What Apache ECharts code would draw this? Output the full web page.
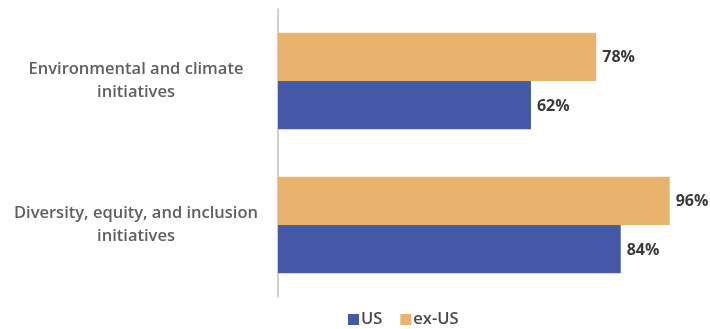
<!DOCTYPE html>
<html>
<head>
<meta charset="utf-8">
<script src="https://cdn.jsdelivr.net/npm/echarts@6/dist/echarts.min.js"></script>
<style>
html,body{margin:0;padding:0;background:#fff;}
#chart{width:710px;height:329px;}
</style>
</head>
<body>
<div id="chart"></div>
<script>
const categories = ['Environmental and climate\ninitiatives', 'Diversity, equity, and inclusion\ninitiatives'];
const usValues = [62, 84];
const exUsValues = [78, 96];
const seriesNames = ['US', 'ex-US'];

const chart = echarts.init(document.getElementById('chart'));
const font = '"Open Sans", "Noto Sans", sans-serif';
chart.setOption({
  animation: false,
  textStyle: { fontFamily: font },
  grid: { left: 278, right: 24, top: 9, bottom: 32, containLabel: false },
  legend: {
    data: seriesNames,
    top: 306,
    left: 343,
    itemWidth: 11,
    itemHeight: 11,
    itemGap: 18,
    icon: 'rect',
    textStyle: { fontFamily: font, fontSize: 16.5, fontWeight: 600, color: '#4a4a4a', padding: [0, 0, 0, -3] }
  },
  xAxis: {
    type: 'value', min: 0, max: 100,
    show: false
  },
  yAxis: {
    type: 'category',
    inverse: true,
    data: categories,
    axisLine: { show: true, lineStyle: { color: '#bfbfbf', width: 1.5 } },
    axisTick: { show: false },
    axisLabel: {
      fontFamily: font, fontSize: 16.5, fontWeight: 600, color: '#5f5f5f',
      align: 'center', margin: 142, lineHeight: 23
    }
  },
  series: [
    {
      name: 'ex-US', type: 'bar', data: exUsValues,
      barGap: '0%', barCategoryGap: '33%',
      itemStyle: { color: '#e9b36e' },
      label: { show: true, position: 'right', distance: 6, formatter: '{c}%',
        fontFamily: font, fontSize: 16, fontWeight: 'bold', color: '#3a3a3a', offset: [0, 1] }
    },
    {
      name: 'US', type: 'bar', data: usValues,
      barGap: '0%', barCategoryGap: '33%',
      itemStyle: { color: '#4559a8' },
      label: { show: true, position: 'right', distance: 6, formatter: '{c}%',
        fontFamily: font, fontSize: 16, fontWeight: 'bold', color: '#3a3a3a', offset: [0, 1] }
    }
  ]
});
</script>
</body>
</html>
